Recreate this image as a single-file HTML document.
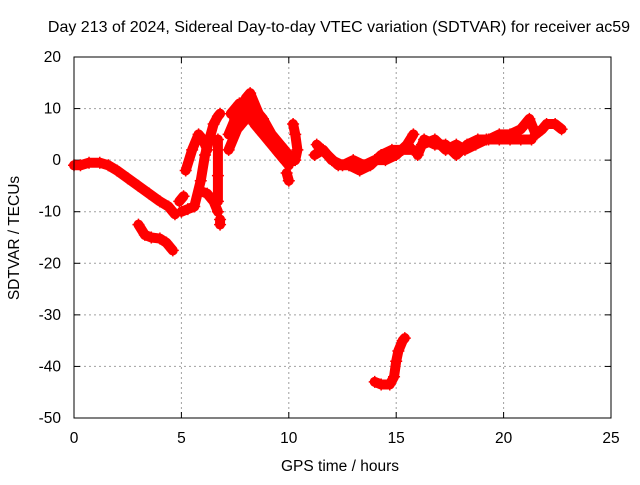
<!DOCTYPE html>
<html><head><meta charset="utf-8"><style>
body{margin:0;background:#fff}
svg text{font-family:"Liberation Sans",sans-serif;font-size:15.5px;fill:#000}
</style></head><body>
<svg id="chart" width="640" height="480" xmlns="http://www.w3.org/2000/svg">
<text x="339" y="32" text-anchor="middle" style="font-size:16px">Day 213 of 2024, Sidereal Day-to-day VTEC variation (SDTVAR) for receiver ac59</text>
<text x="340" y="471" text-anchor="middle">GPS time / hours</text>
<text transform="translate(19,238) rotate(-90)" text-anchor="middle">SDTVAR / TECUs</text>
<g id="grid"></g><g id="ticks"></g><g id="marks"></g>
<rect x="74" y="57" width="537" height="361" fill="none" stroke="#000" stroke-width="1"/>
</svg>
<script>
const xTicks=[0,5,10,15,20,25];
const yTicks=[20,10,0,-10,-20,-30,-40,-50];
const trackA=[[0,-1],[0.3,-1],[0.7,-0.5],[1.2,-0.5],[1.6,-1],[2,-2],[2.5,-3.5],[3,-5],[3.5,-6.5],[4,-8],[4.4,-9],[4.7,-10.5]];
const trackB=[[3,-12.5],[3.3,-14.5],[3.6,-15],[4,-15.2],[4.3,-16],[4.6,-17.5]];
const trackSmall=[[4.9,-8],[5.1,-7]];
const trackC1=[[5.2,-2],[5.5,2],[5.8,5],[6,4],[6.2,2]];
const trackC2=[[5,-10],[5.3,-9.5],[5.6,-9],[5.9,-4],[6.1,1],[6.3,4],[6.5,7],[6.7,8.5],[6.8,9]];
const trackC3=[[6.7,4],[6.7,-3],[6.7,-8]];
const trackC4=[[5.9,-6],[6.2,-6.5],[6.5,-8],[6.7,-10]];
const trackC5=[[6.8,-11.5],[6.8,-12.5]];
const trackD1=[[7.2,5],[7.5,8],[8,12],[8.2,13],[8.6,9],[9,5],[9.4,2],[9.8,0]];
const trackD2=[[7.3,9],[7.7,11],[8,10],[8.4,7],[8.8,5],[9.2,3],[9.6,1],[10,-1]];
const trackD3=[[7.2,2],[7.6,6],[8,8],[8.4,10],[8.8,8],[9.2,5],[9.6,3],[10,1]];
const trackD6=[[7.4,6],[7.8,9],[8.1,11],[8.5,8],[9,6],[9.5,2],[9.9,0]];
const trackD4=[[9.9,-2.5],[10,-4]];
const trackD5=[[10.2,7],[10.3,5],[10.4,2],[10.3,0]];
const trackE1=[[11.2,1],[11.6,2],[12,0],[12.5,-1],[13,0],[13.5,-1],[14,0],[14.5,0],[15,1],[15.5,3],[15.8,5]];
const trackE2=[[11.3,3],[11.8,1],[12.3,-1],[12.8,-1],[13.3,-2],[13.8,-1],[14.3,1],[14.8,2],[15.3,2],[15.8,2]];
const trackF1=[[16,1],[16.3,4],[16.8,3],[17.3,3],[17.8,1],[18.3,3],[18.8,4],[19.3,4],[19.8,5],[20.3,5],[20.8,6],[21.2,8],[21.5,5],[21.8,6],[22,7],[22.4,7],[22.7,6]];
const trackF2=[[16.2,3],[16.8,4],[17.3,2],[17.8,3],[18.2,2],[18.7,3],[19.2,4],[19.8,4],[20.3,4],[20.8,4],[21.3,4]];
const trackG=[[14,-43],[14.3,-43.5],[14.7,-43.5],[14.9,-42],[15,-39],[15.1,-37],[15.3,-35],[15.4,-34.5]];
const tracks=[trackA,trackB,trackSmall,trackC1,trackC2,trackC3,trackC4,trackC5,trackD1,trackD2,trackD3,trackD6,trackD4,trackD5,trackE1,trackE2,trackF1,trackF2,trackG];
const X0=74,X1=611,Y0=418,Y1=57;
const sx=v=>X0+(v-0)/(25-0)*(X1-X0);
const sy=v=>Y0-(v+50)/70*(Y0-Y1);
const NS="http://www.w3.org/2000/svg";
const grid=document.getElementById('grid'),ticks=document.getElementById('ticks'),marks=document.getElementById('marks');
function mk(tag,attrs,parent){const e=document.createElementNS(NS,tag);for(const k in attrs)e.setAttribute(k,attrs[k]);parent.appendChild(e);return e;}
xTicks.forEach(t=>{
  const x=sx(t);
  if(t>0&&t<25){const g=mk('line',{x1:x,x2:x,y1:Y1,y2:Y0,stroke:'#a0a0a0','stroke-dasharray':'2,3'},grid);
  
  }
  const tk=mk('line',{x1:x,x2:x,y1:Y0,y2:Y0-6,stroke:'#000'},ticks);
  
  
  const tk2=mk('line',{x1:x,x2:x,y1:Y1,y2:Y1+6,stroke:'#000'},ticks);
  
  
  const l=mk('text',{x:x,y:443,'text-anchor':'middle'},ticks);l.textContent=t;
  
  
});
yTicks.forEach(t=>{
  const y=sy(t);
  if(t<20&&t>-50){const g=mk('line',{x1:X0,x2:X1,y1:y,y2:y,stroke:'#a0a0a0','stroke-dasharray':'2,3'},grid);
  
  }
  const tk=mk('line',{x1:X0,x2:X0+6,y1:y,y2:y,stroke:'#000'},ticks);
  
  
  const tk2=mk('line',{x1:X1,x2:X1-6,y1:y,y2:y,stroke:'#000'},ticks);
  
  
  const l=mk('text',{x:61,y:y+5,'text-anchor':'end'},ticks);l.textContent=t;
  
  
});
tracks.forEach(tr=>{
  const pl=mk('polyline',{points:tr.map(p=>sx(p[0])+','+sy(p[1])).join(' '),fill:'none',stroke:'#ff0000','stroke-width':10,'stroke-linejoin':'round','stroke-linecap':'round'},marks);
  
  
  tr.forEach(p=>{
    const x=sx(p[0]),y=sy(p[1]);
    const m=mk('path',{d:`M${x-6},${y}H${x+6}M${x},${y-6}V${y+6}`,stroke:'#ff0000','stroke-width':1.5},marks);
    
    
  });
});
</script>
</body></html>
